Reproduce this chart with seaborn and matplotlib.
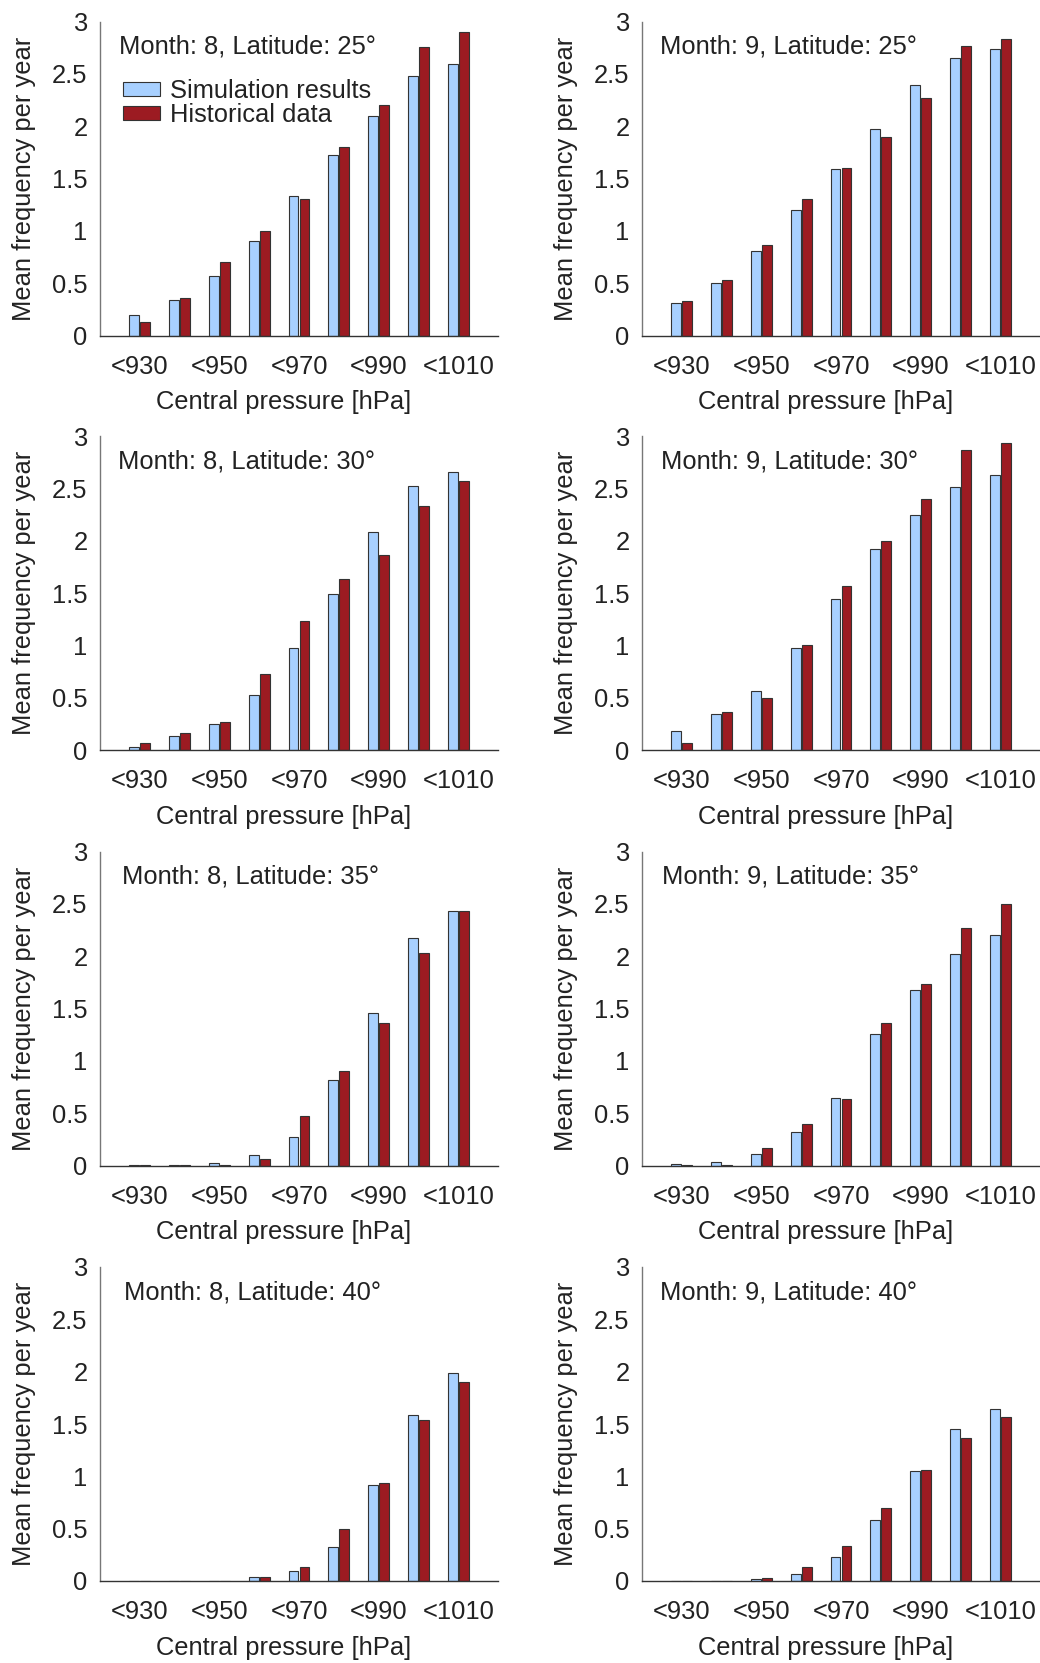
import matplotlib
matplotlib.use("Agg")
import matplotlib.pyplot as plt
import seaborn as sns
import pandas as pd
import numpy as np

categories = ["<930", "<940", "<950", "<960", "<970", "<980", "<990", "<1000", "<1010"]
tick_labels = ["<930", "", "<950", "", "<970", "", "<990", "", "<1010"]
series_names = ["Simulation results", "Historical data"]

panel_titles = [
    "Month: 8, Latitude: 25\u00b0", "Month: 9, Latitude: 25\u00b0",
    "Month: 8, Latitude: 30\u00b0", "Month: 9, Latitude: 30\u00b0",
    "Month: 8, Latitude: 35\u00b0", "Month: 9, Latitude: 35\u00b0",
    "Month: 8, Latitude: 40\u00b0", "Month: 9, Latitude: 40\u00b0",
]

sim_m8_l25 = [0.20, 0.34, 0.565, 0.905, 1.33, 1.72, 2.10, 2.48, 2.59]
his_m8_l25 = [0.13, 0.36, 0.70, 1.00, 1.30, 1.80, 2.20, 2.76, 2.90]
sim_m9_l25 = [0.315, 0.50, 0.81, 1.195, 1.59, 1.975, 2.39, 2.655, 2.735]
his_m9_l25 = [0.33, 0.53, 0.865, 1.30, 1.60, 1.90, 2.265, 2.765, 2.83]
sim_m8_l30 = [0.03, 0.135, 0.245, 0.53, 0.97, 1.49, 2.08, 2.52, 2.66]
his_m8_l30 = [0.065, 0.167, 0.27, 0.73, 1.23, 1.63, 1.865, 2.33, 2.57]
sim_m9_l30 = [0.18, 0.345, 0.565, 0.97, 1.445, 1.92, 2.245, 2.515, 2.625]
his_m9_l30 = [0.067, 0.362, 0.50, 1.00, 1.567, 2.00, 2.40, 2.87, 2.935]
sim_m8_l35 = [0.004, 0.004, 0.02, 0.10, 0.273, 0.813, 1.46, 2.17, 2.435]
his_m8_l35 = [0.002, 0.002, 0.003, 0.065, 0.473, 0.90, 1.366, 2.035, 2.435]
sim_m9_l35 = [0.019, 0.038, 0.112, 0.32, 0.646, 1.26, 1.676, 2.02, 2.20]
his_m9_l35 = [0.003, 0.003, 0.166, 0.40, 0.636, 1.366, 1.733, 2.265, 2.497]
sim_m8_l40 = [0.003, 0.003, 0.003, 0.035, 0.096, 0.323, 0.92, 1.59, 1.984]
his_m8_l40 = [0.002, 0.002, 0.002, 0.035, 0.131, 0.50, 0.933, 1.534, 1.90]
sim_m9_l40 = [0.002, 0.002, 0.022, 0.067, 0.23, 0.58, 1.053, 1.454, 1.643]
his_m9_l40 = [0.002, 0.002, 0.032, 0.134, 0.333, 0.698, 1.063, 1.367, 1.569]

panels_sim = [sim_m8_l25, sim_m9_l25, sim_m8_l30, sim_m9_l30,
              sim_m8_l35, sim_m9_l35, sim_m8_l40, sim_m9_l40]
panels_his = [his_m8_l25, his_m9_l25, his_m8_l30, his_m9_l30,
              his_m8_l35, his_m9_l35, his_m8_l40, his_m9_l40]

y_ticks = [0, 0.5, 1, 1.5, 2, 2.5, 3]
y_tick_labels = ["0", "0.5", "1", "1.5", "2", "2.5", "3"]

sns.set_theme(style="white")
plt.rcParams["font.family"] = ["Liberation Sans", "DejaVu Sans"]
plt.rcParams["text.color"] = "#222222"

W, H = 1040, 1663
fig = plt.figure(figsize=(W / 100, H / 100), dpi=100)

col_left = [100, 642]
row_bottom = [335.5, 750, 1165.5, 1581]
ax_w, ax_h = 398, 314
title_x = [0.048, 0.045, 0.044, 0.047, 0.055, 0.05, 0.06, 0.044]

palette = {"Simulation results": "#A8D0FF", "Historical data": "#9C1B22"}
FS = 18.4

for i in range(8):
    r, c = divmod(i, 2)
    left = col_left[c] / W
    bottom = 1 - row_bottom[r] / H
    ax = fig.add_axes([left, bottom, ax_w / W, ax_h / H])

    df = pd.DataFrame({
        "cat": categories * 2,
        "val": list(panels_sim[i]) + list(panels_his[i]),
        "series": [series_names[0]] * 9 + [series_names[1]] * 9,
    })
    sns.barplot(data=df, x="cat", y="val", hue="series", order=categories,
                hue_order=series_names, palette=palette, width=0.55, gap=0.1,
                edgecolor="#333333", linewidth=0.8, saturation=1, ax=ax,
                legend=(i == 0))

    ax.set_xlim(-1, 9)
    ax.set_ylim(0, 3)
    ax.set_yticks(y_ticks)
    ax.set_yticklabels(y_tick_labels)
    ax.set_xticks(range(9))
    ax.set_xticklabels(tick_labels)
    ax.tick_params(axis="both", direction="in", length=4, width=0.8,
                   colors="#444444", labelcolor="#222222", labelsize=FS)
    ax.tick_params(axis="y", pad=9)
    ax.tick_params(axis="x", pad=14)
    for s in ["top", "right"]:
        ax.spines[s].set_visible(False)
    ax.spines["left"].set_color("#777777")
    ax.spines["bottom"].set_color("#333333")
    ax.spines["left"].set_linewidth(1.0)
    ax.spines["bottom"].set_linewidth(1.0)

    ax.set_xlabel("Central pressure [hPa]", fontsize=FS, color="#222222")
    ax.set_ylabel("Mean frequency per year", fontsize=FS, color="#222222")
    ax.xaxis.set_label_coords(0.462, -0.175)
    ax.yaxis.set_label_coords(-0.16, 0.5)

    ax.text(title_x[i], 0.92, panel_titles[i], transform=ax.transAxes,
            fontsize=FS, va="center", ha="left", color="#222222")

    if i == 0:
        leg = ax.legend(loc="upper left", bbox_to_anchor=(0.032, 0.85),
                        frameon=False, fontsize=FS, handlelength=1.45,
                        handleheight=0.45, handletextpad=0.4,
                        labelspacing=0.0, borderaxespad=0)
        for h in leg.legend_handles:
            h.set_edgecolor("#333333")
            h.set_linewidth(0.8)

fig.savefig("out.png", dpi=100)
